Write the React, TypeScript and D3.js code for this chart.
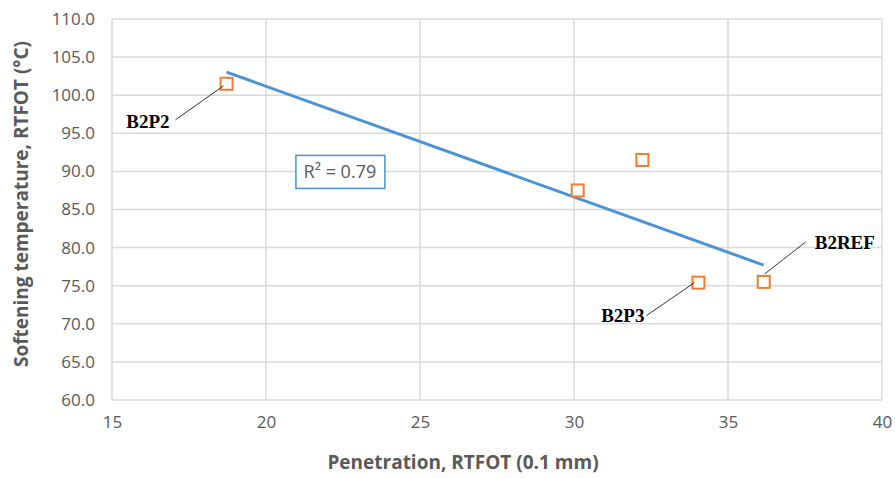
import { useEffect, useRef } from 'react';
import * as d3 from 'd3';

// data
const pointIds = ['B2P2', 'B2PA', 'B2PB', 'B2P3', 'B2REF'];
const penetration = [18.72, 30.12, 32.22, 34.04, 36.16];
const softening = [101.5, 87.5, 91.5, 75.4, 75.5];
const xTicks = [15, 20, 25, 30, 35, 40];
const yTicks = [60, 65, 70, 75, 80, 85, 90, 95, 100, 105, 110];

// callout labels: which point, and pixel offsets for leader line + text
const callouts = [
  { id: 'B2P2', line: [-3, 2, -51, 36], text: [-57, 44], anchor: 'end' },
  { id: 'B2P3', line: [-4, 0, -52, 33], text: [-54, 39], anchor: 'end' },
  { id: 'B2REF', line: [1, -8, 42, -40], text: [51, -33], anchor: 'start' },
];

const W = 895;
const H = 478;

export default function App() {
  const svgRef = useRef<SVGSVGElement | null>(null);

  useEffect(() => {
    document.body.style.margin = '0';
    const svg = d3.select(svgRef.current);
    svg.selectAll('*').remove();

    const margin = { top: 19, right: 13, bottom: 78, left: 112 };
    const innerW = W - margin.left - margin.right;
    const innerH = H - margin.top - margin.bottom;

    const x = d3.scaleLinear().domain([15, 40]).range([0, innerW]);
    const y = d3.scaleLinear().domain([60, 110]).range([innerH, 0]);

    const g = svg.append('g').attr('transform', `translate(${margin.left},${margin.top})`);

    // Grid
    g.append('g')
      .selectAll('line')
      .data(yTicks)
      .join('line')
      .attr('x1', 0).attr('x2', innerW)
      .attr('y1', d => y(d)).attr('y2', d => y(d))
      .attr('stroke', '#d9d9d9')
      .attr('stroke-width', 1.5);
    g.append('g')
      .selectAll('line')
      .data(xTicks)
      .join('line')
      .attr('y1', 0).attr('y2', innerH)
      .attr('x1', d => x(d)).attr('x2', d => x(d))
      .attr('stroke', '#d9d9d9')
      .attr('stroke-width', 1.5);

    // Axes labels
    const yAxis = g.append('g')
      .call(d3.axisLeft(y).tickValues(yTicks).tickFormat(d3.format('.1f')).tickSize(0).tickPadding(17));
    const xAxis = g.append('g')
      .attr('transform', `translate(0,${innerH})`)
      .call(d3.axisBottom(x).tickValues(xTicks).tickFormat(d3.format('d')).tickSize(0).tickPadding(16));
    [xAxis, yAxis].forEach(ax => {
      ax.select('.domain').remove();
      ax.selectAll('text')
        .attr('fill', '#595959')
        .attr('font-family', 'Open Sans')
        .attr('font-size', '17px');
    });

    // Linear trendline (least squares)
    const mx = d3.mean(penetration) as number;
    const my = d3.mean(softening) as number;
    let sxy = 0, sxx = 0, syy = 0;
    penetration.forEach((px, i) => {
      sxy += (px - mx) * (softening[i] - my);
      sxx += (px - mx) ** 2;
      syy += (softening[i] - my) ** 2;
    });
    const slope = sxy / sxx;
    const icpt = my - slope * mx;
    const r2 = (sxy * sxy) / (sxx * syy);
    const [x0, x1] = d3.extent(penetration) as [number, number];

    g.append('line')
      .attr('x1', x(x0)).attr('y1', y(icpt + slope * x0))
      .attr('x2', x(x1)).attr('y2', y(icpt + slope * x1))
      .attr('stroke', '#4a93d6')
      .attr('stroke-width', 3);

    // Markers
    g.append('g')
      .selectAll('rect')
      .data(penetration)
      .join('rect')
      .attr('x', (d) => x(d) - 6)
      .attr('y', (d, i) => y(softening[i]) - 6)
      .attr('width', 12)
      .attr('height', 12)
      .attr('fill', '#fff')
      .attr('stroke', '#ed7d31')
      .attr('stroke-width', 2);

    // Callouts
    callouts.forEach(c => {
      const i = pointIds.indexOf(c.id);
      const px = x(penetration[i]);
      const py = y(softening[i]);
      g.append('line')
        .attr('x1', px + c.line[0]).attr('y1', py + c.line[1])
        .attr('x2', px + c.line[2]).attr('y2', py + c.line[3])
        .attr('stroke', '#000')
        .attr('stroke-width', 0.8);
      g.append('text')
        .attr('x', px + c.text[0])
        .attr('y', py + c.text[1])
        .attr('text-anchor', c.anchor)
        .attr('font-family', 'Liberation Serif')
        .attr('font-weight', 'bold')
        .attr('font-size', '19px')
        .attr('fill', '#000')
        .text(c.id);
    });

    // R² box
    const rx = x(22.4), ry = y(90.0);
    g.append('rect')
      .attr('x', rx - 44).attr('y', ry - 16)
      .attr('width', 89).attr('height', 33)
      .attr('fill', '#fff')
      .attr('stroke', '#4a93d6')
      .attr('stroke-width', 1.5);
    g.append('text')
      .attr('x', rx).attr('y', ry + 7)
      .attr('text-anchor', 'middle')
      .attr('font-family', 'Open Sans')
      .attr('font-size', '18px')
      .attr('fill', '#595959')
      .text(`R² = ${r2.toFixed(2)}`);

    // Axis titles
    svg.append('text')
      .attr('x', 463)
      .attr('y', 469)
      .attr('text-anchor', 'middle')
      .attr('font-family', 'Open Sans')
      .attr('font-weight', 'bold')
      .attr('font-size', '19px')
      .attr('fill', '#595959')
      .text('Penetration, RTFOT (0.1 mm)');

    svg.append('text')
      .attr('transform', `translate(28,204) rotate(-90)`)
      .attr('text-anchor', 'middle')
      .attr('font-family', 'Open Sans')
      .attr('font-weight', 'bold')
      .attr('font-size', '19px')
      .attr('fill', '#595959')
      .text('Softening temperature, RTFOT (°C)');
  }, []);

  return <svg ref={svgRef} width={W} height={H} style={{ display: 'block', background: '#fff' }} />;
}
